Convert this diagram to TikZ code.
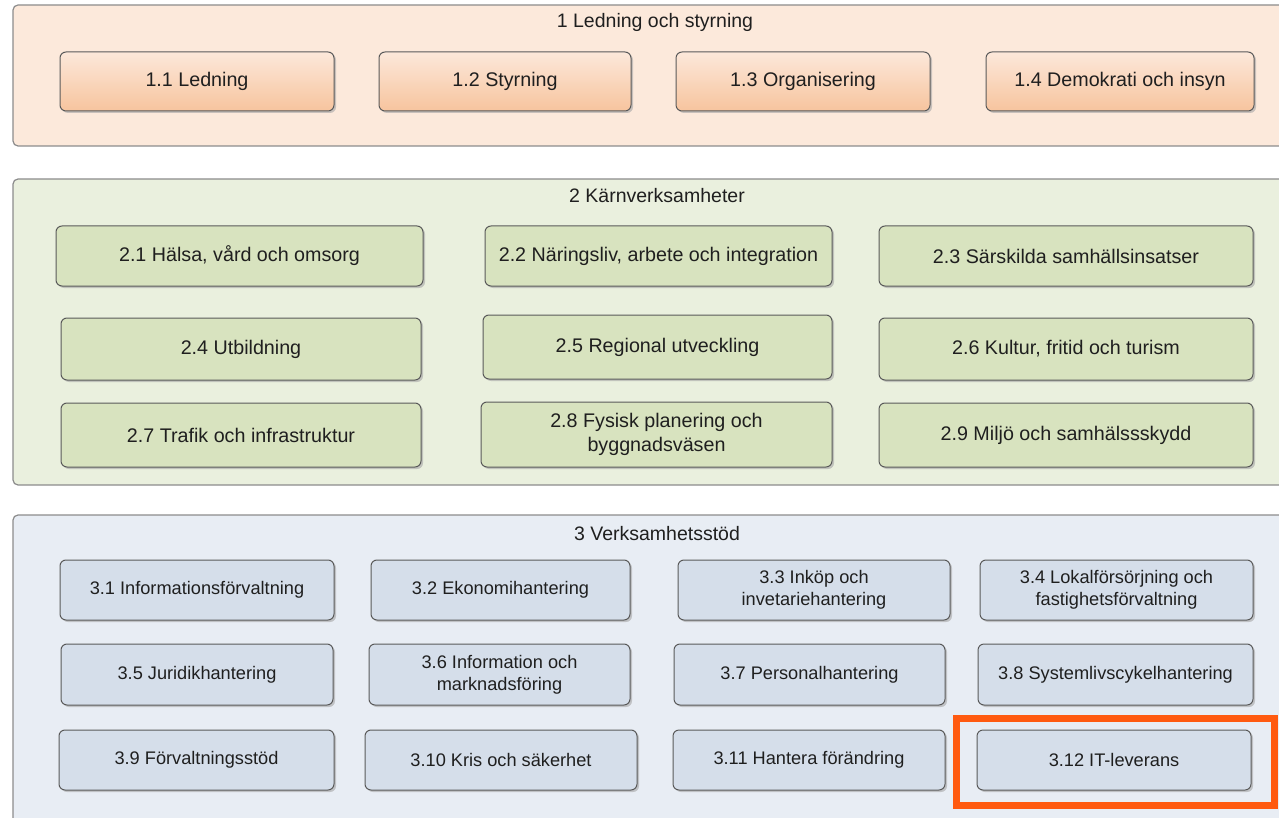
\documentclass[tikz,border=0pt]{standalone}
\usepackage{fontspec}
\setmainfont{Liberation Sans}
\usetikzlibrary{shadows}
\definecolor{oBg}{HTML}{FCE9DB}
\definecolor{gBg}{HTML}{EAF0DE}
\definecolor{bBg}{HTML}{E8EDF4}
\definecolor{oTop}{HTML}{FCE8DA}
\definecolor{oBot}{HTML}{F7C49E}
\definecolor{gFill}{HTML}{D8E3BF}
\definecolor{bFill}{HTML}{D5DEEA}
\definecolor{edge}{HTML}{5A5A5A}
\definecolor{outerEdge}{HTML}{8C8C8C}
\definecolor{hl}{HTML}{FF5A10}
\tikzset{
  outerbox/.style={draw=outerEdge, line width=1.2pt, rounded corners=5pt},
  inner/.style={draw=edge, line width=1pt, rounded corners=6pt, align=center,
    inner sep=0pt, text=black!88,
    drop shadow={shadow xshift=2pt, shadow yshift=-2pt, fill=black!35, opacity=0.6}},
  obox/.style={inner, top color=oTop, bottom color=oBot, font=\fontsize{19.7}{24}\selectfont},
  gbox/.style={inner, fill=gFill, font=\fontsize{19.7}{24}\selectfont},
  bbox/.style={inner, fill=bFill, font=\fontsize{18.2}{22}\selectfont},
  ttl/.style={font=\fontsize{19.5}{22}\selectfont, text=black!88, inner sep=0pt},
}
\begin{document}
\begin{tikzpicture}[x=1pt,y=-1pt]
\useasboundingbox (0,0) rectangle (1279,818);
\clip (0,0) rectangle (1279,818);
% outer sections
\draw[outerbox, fill=oBg] (13,5) rectangle (1295,146);
\draw[outerbox, fill=gBg] (13,179) rectangle (1295,485);
\draw[outerbox, fill=bBg] (13,515) rectangle (1295,840);
\node[ttl] (t1) at (655,22) {1 Ledning och styrning};
\node[ttl] (t2) at (657,196) {2 Kärnverksamheter};
\node[ttl] (t3) at (657,534) {3 Verksamhetsstöd};
% row 1
\node[obox, minimum width=274pt, minimum height=59pt] (n11) at (197,81.5) {1.1 Ledning};
\node[obox, minimum width=252pt, minimum height=59pt] (n12) at (505,81.5) {1.2 Styrning};
\node[obox, minimum width=254pt, minimum height=59pt] (n13) at (803,81.5) {1.3 Organisering};
\node[obox, minimum width=268pt, minimum height=59pt] (n14) at (1120,81.5) {1.4 Demokrati och insyn};
% section 2
\node[gbox, minimum width=367pt, minimum height=60pt] (n21) at (239.5,256) {2.1 Hälsa, vård och omsorg};
\node[gbox, minimum width=347pt, minimum height=60pt] (n22) at (658.5,256) {2.2 Näringsliv, arbete och integration};
\node[gbox, minimum width=374pt, minimum height=60pt] (n23) at (1066,256) {2.3 Särskilda samhällsinsatser};
\node[gbox, minimum width=360pt, minimum height=62pt] (n24) at (241,349) {2.4 Utbildning};
\node[gbox, minimum width=349pt, minimum height=64pt] (n25) at (657.5,347) {2.5 Regional utveckling};
\node[gbox, minimum width=374pt, minimum height=62pt] (n26) at (1066,349) {2.6 Kultur, fritid och turism};
\node[gbox, minimum width=360pt, minimum height=64pt] (n27) at (241,435) {2.7 Trafik och infrastruktur};
\node[gbox, minimum width=351pt, minimum height=65pt] (n28) at (656.5,434.5) {2.8 Fysisk planering och\\byggnadsväsen};
\node[gbox, minimum width=374pt, minimum height=64pt] (n29) at (1066,435) {2.9 Miljö och samhälssskydd};
% section 3
\node[bbox, minimum width=274pt, minimum height=60pt] (n31) at (197,590) {3.1 Informationsförvaltning};
\node[bbox, minimum width=259pt, minimum height=60pt] (n32) at (500.5,590) {3.2 Ekonomihantering};
\node[bbox, minimum width=272pt, minimum height=60pt] (n33) at (814,590) {3.3 Inköp och\\invetariehantering};
\node[bbox, minimum width=273pt, minimum height=60pt] (n34) at (1116.5,590) {3.4 Lokalförsörjning och\\fastighetsförvaltning};
\node[bbox, minimum width=272pt, minimum height=61pt] (n35) at (197,674.5) {3.5 Juridikhantering};
\node[bbox, minimum width=261pt, minimum height=61pt] (n36) at (499.5,674.5) {3.6 Information och\\marknadsföring};
\node[bbox, minimum width=271pt, minimum height=61pt] (n37) at (809.5,674.5) {3.7 Personalhantering};
\node[bbox, minimum width=275pt, minimum height=61pt] (n38) at (1115.5,674.5) {3.8 Systemlivscykelhantering};
\node[bbox, minimum width=275pt, minimum height=60pt] (n39) at (196.5,760) {3.9 Förvaltningsstöd};
\node[bbox, minimum width=272pt, minimum height=60pt] (n310) at (501,760) {3.10 Kris och säkerhet};
\node[bbox, minimum width=272pt, minimum height=60pt] (n311) at (809,760) {3.11 Hantera förändring};
\node[bbox, minimum width=274pt, minimum height=60pt] (n312) at (1114,760) {3.12 IT-leverans};
% highlight
\draw[draw=hl, line width=7pt] (956,718) rectangle (1274,805.5);
\end{tikzpicture}
\end{document}
